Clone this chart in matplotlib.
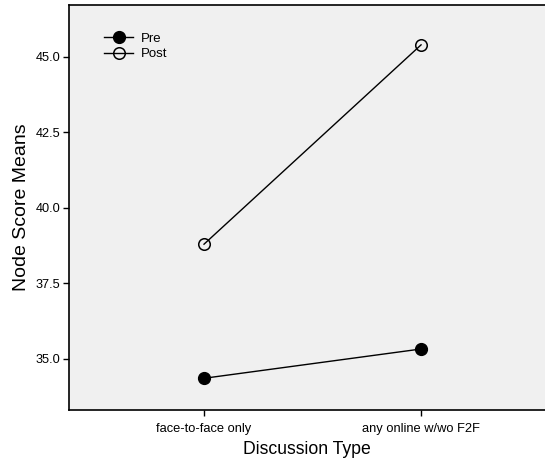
import matplotlib
matplotlib.use("Agg")
import matplotlib.pyplot as plt
from matplotlib.ticker import FormatStrFormatter

categories = ["face-to-face only", "any online w/wo F2F"]
pre = [34.36, 35.33]
post = [38.80, 45.40]
yticks = [35.0, 37.5, 40.0, 42.5, 45.0]

plt.rcParams['font.family'] = ['Liberation Sans', 'DejaVu Sans']

fig = plt.figure(figsize=(5.45, 4.61), dpi=100)
ax = fig.add_axes([69/545, 51/461, 1 - 69/545, (410-5)/461])
ax.set_facecolor('#f0f0f0')

x = list(range(len(categories)))
ax.plot(x, pre, color='black', lw=1, marker='o', markersize=8.5,
        markerfacecolor='black', markeredgecolor='black', label='Pre')
ax.plot(x, post, color='black', lw=1, marker='o', markersize=8.3,
        markerfacecolor='none', markeredgecolor='black', markeredgewidth=1.1, label='Post')

ax.set_xlim(-0.622, 1.571)
ax.set_ylim(33.31, 46.72)
ax.set_xticks(x)
ax.set_xticklabels(categories, fontsize=9.3)
ax.set_yticks(yticks)
ax.yaxis.set_major_formatter(FormatStrFormatter('%.1f'))
ax.tick_params(axis='y', labelsize=9.2, direction='out', length=4, width=1, pad=2)
ax.tick_params(axis='x', direction='out', length=4, width=1, pad=5)
for s in ['left', 'bottom', 'top']:
    ax.spines[s].set_linewidth(1.2)
ax.spines['right'].set_visible(False)

ax.set_xlabel('Discussion Type', fontsize=12.7, labelpad=4.5)
ax.set_ylabel('Node Score Means', fontsize=14, labelpad=4)

leg = ax.legend(loc='upper left', bbox_to_anchor=(0.055, 0.955), frameon=False,
                fontsize=9.5, handlelength=2.2, handletextpad=0.6, labelspacing=0.25,
                borderpad=0.2)

fig.savefig('out.png', dpi=100)
